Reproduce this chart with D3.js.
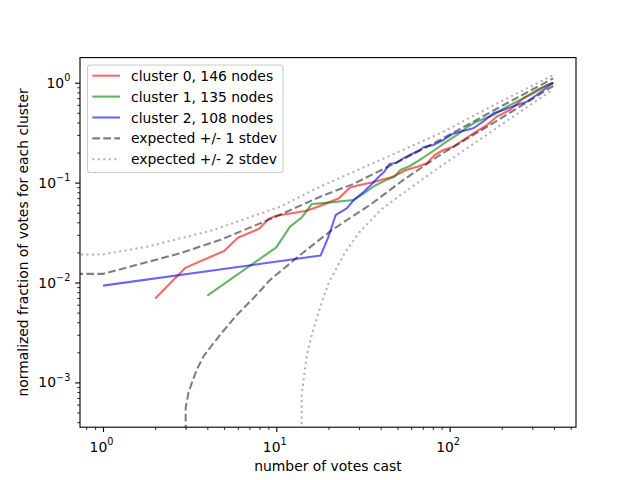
<!DOCTYPE html>
<html>
<head>
<meta charset="utf-8">
<script src="https://cdn.jsdelivr.net/npm/d3@7"></script>
<style>
  body { margin: 0; background: #fff; }
  svg { font-family: "DejaVu Sans", sans-serif; }
</style>
</head>
<body>
<svg id="chart" width="640" height="480"></svg>
<script>
// cluster curves
const redX = [2, 3, 5, 6, 8, 9, 10, 15, 18, 23, 26.5, 29, 35, 45, 48, 56, 65, 74, 82, 92, 105, 120, 137, 164, 187, 223, 266, 304, 363, 396];
const redY = [0.0069, 0.0141, 0.0207, 0.0281, 0.0347, 0.0432, 0.0466, 0.0523, 0.0587, 0.0697, 0.0889, 0.0931, 0.0998, 0.112, 0.1164, 0.1337, 0.1443, 0.156, 0.1889, 0.212, 0.229, 0.267, 0.311, 0.377, 0.457, 0.533, 0.698, 0.783, 0.948, 1.0];

const greenX = [4, 10, 12, 14, 16, 18, 28, 32, 37, 43, 48, 52, 59, 67, 82, 96, 110, 126, 143, 179, 214, 266, 318, 396];
const greenY = [0.0074, 0.0225, 0.0362, 0.0447, 0.061, 0.062, 0.067, 0.078, 0.093, 0.106, 0.1146, 0.1337, 0.1466, 0.168, 0.212, 0.257, 0.299, 0.358, 0.407, 0.475, 0.575, 0.698, 0.845, 1.0];

const blueX = [1, 18, 20, 22, 25.5, 28, 32, 36, 39, 42, 45, 49.5, 54, 59, 67.5, 70.5, 80.5, 92, 103, 115, 137, 156, 179, 204, 244, 279, 318, 396];
const blueY = [0.0093, 0.0186, 0.0287, 0.0474, 0.0553, 0.067, 0.081, 0.0984, 0.1146, 0.1286, 0.1535, 0.158, 0.175, 0.189, 0.212, 0.226, 0.238, 0.267, 0.304, 0.323, 0.350, 0.407, 0.494, 0.533, 0.598, 0.645, 0.753, 1.0];

// expected band lines (0 = not positive, falls off the log axis)
const hi1X = [0, 1, 1.43, 2.78, 4.73, 8.8, 17.9, 27.8, 50, 88, 195, 396];
const hi1Y = [0.0122, 0.0122, 0.0144, 0.0196, 0.0266, 0.0416, 0.0722, 0.0968, 0.1607, 0.267, 0.571, 1.106];
const lo1X = [0, 1, 2, 3, 3.11, 3.25, 3.47, 3.79, 4.05, 4.73, 5.91, 7.37, 9.2, 13.7, 20.9, 34.7, 54, 88, 195, 396];
const lo1Y = [0, 0, 0, 0.00056, 0.00078, 0.00098, 0.00133, 0.00181, 0.00211, 0.00298, 0.00473, 0.00695, 0.0106, 0.0188, 0.0335, 0.0597, 0.106, 0.189, 0.433, 0.927];
const hi2X = [0, 1, 1.79, 4.33, 10.5, 17.9, 39.7, 88, 195, 396];
const hi2Y = [0.0191, 0.0191, 0.0228, 0.0335, 0.0574, 0.091, 0.168, 0.311, 0.641, 1.19];
const lo2X = [13, 14, 15, 16, 18, 20, 25, 30, 40, 50, 70, 88, 195, 396];
const lo2Y = [0, 0.00075, 0.00188, 0.00298, 0.00583, 0.00988, 0.0202, 0.0315, 0.0532, 0.071, 0.1086, 0.144, 0.371, 0.859];

const legendLabels = ["cluster 0, 146 nodes", "cluster 1, 135 nodes", "cluster 2, 108 nodes",
                      "expected +/- 1 stdev", "expected +/- 2 stdev"];

const xMajor = [1, 10, 100];
const yMajor = [1e-3, 1e-2, 1e-1, 1];
const xLabel = "number of votes cast";
const yLabel = "normalized fraction of votes for each cluster";

const width = 640, height = 480;
const margin = {top: 57.6, right: 64, bottom: 52.8, left: 80};

const x = d3.scaleLog()
    .domain([Math.pow(10, -0.1327), Math.pow(10, 2.7293)])
    .range([margin.left, width - margin.right]);
const y = d3.scaleLog()
    .domain([Math.pow(10, -3.4484), Math.pow(10, 0.2513)])
    .range([height - margin.bottom, margin.top]);

// like matplotlib, non-positive values go far off the axis
const px = v => x(v > 0 ? v : 1e-300);
const py = v => y(v > 0 ? v : 1e-300);

const svg = d3.select("#chart");

svg.append("defs").append("clipPath").attr("id", "plotclip")
  .append("rect")
    .attr("x", margin.left).attr("y", margin.top)
    .attr("width", width - margin.left - margin.right)
    .attr("height", height - margin.top - margin.bottom);

const series = [
    {xs: redX, ys: redY, color: "rgba(255,0,0,0.6)", dash: null},
    {xs: greenX, ys: greenY, color: "rgba(0,128,0,0.6)", dash: null},
    {xs: blueX, ys: blueY, color: "rgba(0,0,255,0.6)", dash: null},
    {xs: hi1X, ys: hi1Y, color: "rgba(0,0,0,0.5)", dash: "7.7,3.3"},
    {xs: lo1X, ys: lo1Y, color: "rgba(0,0,0,0.5)", dash: "7.7,3.3"},
    {xs: hi2X, ys: hi2Y, color: "rgba(0,0,0,0.3)", dash: "2.1,3.4"},
    {xs: lo2X, ys: lo2Y, color: "rgba(0,0,0,0.3)", dash: "2.1,3.4"}
];

const line = d3.line()
    .x(d => px(d[0]))
    .y(d => py(d[1]));

svg.append("g")
    .attr("clip-path", "url(#plotclip)")
  .selectAll("path")
  .data(series)
  .join("path")
    .attr("fill", "none")
    .attr("stroke", d => d.color)
    .attr("stroke-width", 2.08)
    .attr("stroke-linejoin", "round")
    .attr("stroke-dasharray", d => d.dash)
    .attr("d", d => line(d.xs.map((v, i) => [v, d.ys[i]])));

// minor ticks
const minorOf = (scale) => {
    const [lo, hi] = scale.domain();
    const out = [];
    for (let e = Math.floor(Math.log10(lo)); e <= Math.ceil(Math.log10(hi)); e++) {
        for (let m = 2; m <= 9; m++) {
            const v = m * Math.pow(10, e);
            if (v >= lo && v <= hi) out.push(v);
        }
    }
    return out;
};

const gx = svg.append("g")
    .attr("transform", `translate(0,${height - margin.bottom})`);
gx.call(d3.axisBottom(x).tickValues(minorOf(x)).tickSize(2.78).tickFormat(""))
  .call(g => g.selectAll("line").attr("stroke-width", 0.83))
  .call(g => g.select(".domain").remove());
const gxMaj = svg.append("g")
    .attr("transform", `translate(0,${height - margin.bottom})`);
gxMaj.call(d3.axisBottom(x).tickValues(xMajor).tickSize(4.86).tickFormat(""))
  .call(g => g.selectAll("line").attr("stroke-width", 1.11))
  .call(g => g.select(".domain").remove());

const gy = svg.append("g")
    .attr("transform", `translate(${margin.left},0)`);
gy.call(d3.axisLeft(y).tickValues(minorOf(y)).tickSize(2.78).tickFormat(""))
  .call(g => g.selectAll("line").attr("stroke-width", 0.83))
  .call(g => g.select(".domain").remove());
const gyMaj = svg.append("g")
    .attr("transform", `translate(${margin.left},0)`);
gyMaj.call(d3.axisLeft(y).tickValues(yMajor).tickSize(4.86).tickFormat(""))
  .call(g => g.selectAll("line").attr("stroke-width", 1.11))
  .call(g => g.select(".domain").remove());

// power-of-ten tick labels
const expText = v => {
    const e = Math.round(Math.log10(v));
    return e < 0 ? "\u2212" + Math.abs(e) : String(e);
};

const xt = svg.append("g").selectAll("text")
  .data(xMajor)
  .join("text")
    .attr("x", d => x(d) - 1.5)
    .attr("y", height - margin.bottom + 24.5)
    .attr("text-anchor", "middle")
    .attr("font-size", 13.9);
xt.append("tspan").text("10");
xt.append("tspan").attr("dy", -6.5).attr("font-size", 9.7).text(d => expText(d));

const yt = svg.append("g").selectAll("text")
  .data(yMajor)
  .join("text")
    .attr("x", margin.left - 9.7)
    .attr("y", d => y(d) + 5)
    .attr("text-anchor", "end")
    .attr("font-size", 13.9);
yt.append("tspan").text("10");
yt.append("tspan").attr("dy", -6.5).attr("font-size", 9.7).text(d => expText(d));

// frame
svg.append("rect")
    .attr("x", margin.left).attr("y", margin.top)
    .attr("width", width - margin.left - margin.right)
    .attr("height", height - margin.top - margin.bottom)
    .attr("fill", "none")
    .attr("stroke", "#000")
    .attr("stroke-width", 1.11);

svg.append("text")
    .attr("x", (margin.left + width - margin.right) / 2)
    .attr("y", 471)
    .attr("text-anchor", "middle")
    .attr("font-size", 13.9)
    .text(xLabel);

svg.append("text")
    .attr("transform", `translate(27.5,${(margin.top + height - margin.bottom) / 2}) rotate(-90)`)
    .attr("text-anchor", "middle")
    .attr("font-size", 13.9)
    .text(yLabel);

// legend
const legend = svg.append("g");
legend.append("rect")
    .attr("x", 87.5).attr("y", 65)
    .attr("width", 195.5).attr("height", 107.5)
    .attr("rx", 2.8)
    .attr("fill", "rgba(255,255,255,0.8)")
    .attr("stroke", "#cccccc")
    .attr("stroke-width", 1.11);

const rows = legend.selectAll("g.row")
  .data(legendLabels)
  .join("g")
    .attr("class", "row")
    .attr("transform", (d, i) => `translate(0,${75.7 + i * 20.9})`);
rows.append("line")
    .attr("x1", 92.3).attr("x2", 120)
    .attr("stroke", (d, i) => series[[0, 1, 2, 3, 5][i]].color)
    .attr("stroke-dasharray", (d, i) => series[[0, 1, 2, 3, 5][i]].dash)
    .attr("stroke-width", 2.08);
rows.append("text")
    .attr("x", 131)
    .attr("y", 5)
    .attr("font-size", 13.9)
    .text(d => d);
</script>
</body>
</html>
